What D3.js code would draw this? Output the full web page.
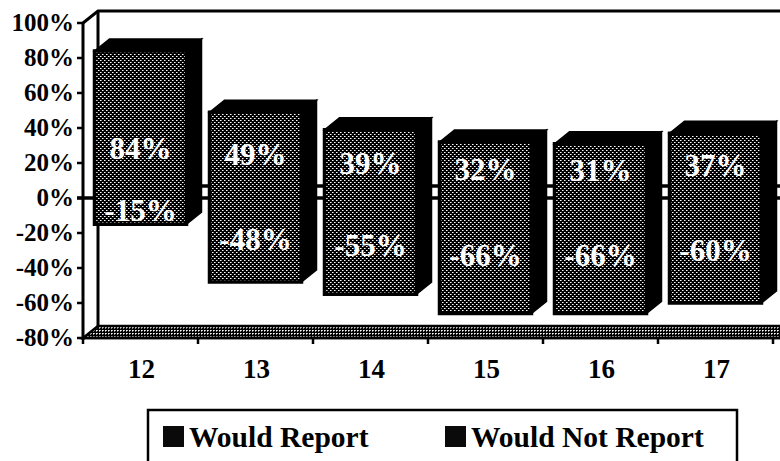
<!DOCTYPE html>
<html>
<head>
<meta charset="utf-8">
<script src="https://cdn.jsdelivr.net/npm/d3@7"></script>
<style>
  html, body { margin: 0; padding: 0; background: #fff; }
  svg { display: block; }
</style>
</head>
<body>
<svg id="chart" width="780" height="461"></svg>
<script>
// ---- data ----
const categories = ["12", "13", "14", "15", "16", "17"];
const wouldReport = [0.84, 0.49, 0.39, 0.32, 0.31, 0.37];
const wouldNotReport = [-0.15, -0.48, -0.55, -0.66, -0.66, -0.60];
const yTicks = [-0.8, -0.6, -0.4, -0.2, 0, 0.2, 0.4, 0.6, 0.8, 1.0];
const seriesNames = ["Would Report", "Would Not Report"];

// ---- layout ----
const W = 780, H = 461;
const FONT = "'Liberation Serif', 'Times New Roman', 'DejaVu Serif', serif";
const svg = d3.select("#chart");
const pct = v => Math.round(v * 100) + "%";

const x = d3.scaleBand().domain(categories).range([83, 773]);
const y = d3.scaleLinear().domain([-0.8, 1.0]).range([338, 23]);
const dx = 15, dy = 12;
const barW = x.bandwidth() * 0.8;

// pattern
const defs = svg.append("defs");
const pat = defs.append("pattern").attr("id", "dots")
  .attr("width", 4).attr("height", 4).attr("patternUnits", "userSpaceOnUse");
pat.append("rect").attr("width", 4).attr("height", 4).attr("fill", "#000");
[[0,0,"#fff"],[2,2,"#fff"],[1,0,"#8a8a8a"],[3,2,"#8a8a8a"]].forEach(([px,py,c]) =>
  pat.append("rect").attr("x", px).attr("y", py).attr("width", 1).attr("height", 1).attr("fill", c));

const pat2 = defs.append("pattern").attr("id", "dots2")
  .attr("width", 3).attr("height", 3).attr("patternUnits", "userSpaceOnUse");
pat2.append("rect").attr("width", 3).attr("height", 3).attr("fill", "#000");
[[0,0,"#fff"],[1,0,"#bbb"],[0,1,"#888"]].forEach(([px,py,c]) =>
  pat2.append("rect").attr("x", px).attr("y", py).attr("width", 1).attr("height", 1).attr("fill", c));

const x0 = x.range()[0], x1 = W + 5;
const yMin = y(-0.8), yMax = y(1.0), y0 = y(0);

// back wall
const g = svg.append("g");
g.append("path")
  .attr("d", `M${x0},${yMax} L${x0 + dx},${yMax - dy} L${x1},${yMax - dy}`)
  .attr("fill", "none").attr("stroke", "#000").attr("stroke-width", 3);
g.append("line").attr("x1", x0 + dx).attr("x2", x0 + dx)
  .attr("y1", yMax - dy).attr("y2", yMin - dy)
  .attr("stroke", "#000").attr("stroke-width", 3);

// floor slab
g.append("path")
  .attr("d", `M${x0},${yMin} L${x0 + dx},${yMin - dy} L${x1},${yMin - dy} L${x1},${yMin} Z`)
  .attr("fill", "url(#dots2)").attr("stroke", "#000").attr("stroke-width", 2.5);

// zero plane lines
g.append("line").attr("x1", x0 + dx).attr("x2", x1).attr("y1", y0 - dy).attr("y2", y0 - dy)
  .attr("stroke", "#000").attr("stroke-width", 3.5);
g.append("line").attr("x1", x0 - 6).attr("x2", x1).attr("y1", y0).attr("y2", y0)
  .attr("stroke", "#000").attr("stroke-width", 3.5);

// y axis
g.append("line").attr("x1", x0).attr("x2", x0).attr("y1", yMax).attr("y2", yMin + 2)
  .attr("stroke", "#000").attr("stroke-width", 3);
const yAxis = g.append("g");
yTicks.forEach(t => {
  yAxis.append("line").attr("x1", x0 - 6).attr("x2", x0).attr("y1", y(t)).attr("y2", y(t))
    .attr("stroke", "#000").attr("stroke-width", 2.5);
  yAxis.append("text").attr("x", x0 - 9).attr("y", y(t) + 8)
    .attr("text-anchor", "end").attr("font-family", FONT).attr("font-weight", "bold")
    .attr("font-size", 25).attr("fill", "#000")
    .text(pct(t));
});

// x axis ticks and labels
g.append("line").attr("x1", x0).attr("x2", x1).attr("y1", yMin).attr("y2", yMin)
  .attr("stroke", "#000").attr("stroke-width", 2.5);
const edges = categories.map(c => x(c)).concat([x(categories[categories.length - 1]) + x.bandwidth()]);
edges.forEach(e => {
  g.append("line").attr("x1", e).attr("x2", e).attr("y1", yMin).attr("y2", yMin + 6)
    .attr("stroke", "#000").attr("stroke-width", 2.5);
});
categories.forEach(c => {
  g.append("text").attr("x", x(c) + x.bandwidth() / 2 + 1).attr("y", 378)
    .attr("text-anchor", "middle").attr("font-family", FONT).attr("font-weight", "bold")
    .attr("font-size", 27).attr("fill", "#000").text(c);
});

// bars
const series = [wouldReport, wouldNotReport];
const bars = svg.append("g");
categories.forEach((c, i) => {
  const bx0 = x(c) + (x.bandwidth() - barW) / 2;
  const bx1 = bx0 + barW;
  const top = y(wouldReport[i]);
  const bot = y(wouldNotReport[i]);
  bars.append("path")
    .attr("d", `M${bx1},${top} L${bx1 + dx},${top - dy} L${bx1 + dx},${bot - dy} L${bx1},${bot} Z`)
    .attr("fill", "#000").attr("stroke", "#000").attr("stroke-width", 1.5);
  bars.append("path")
    .attr("d", `M${bx0},${top} L${bx0 + dx},${top - dy} L${bx1 + dx},${top - dy} L${bx1},${top} Z`)
    .attr("fill", "#000").attr("stroke", "#000").attr("stroke-width", 1.5);
  series.forEach(s => {
    const v = s[i];
    const ya = y(Math.max(0, v)), yb = y(Math.min(0, v));
    bars.append("rect").attr("x", bx0).attr("y", ya).attr("width", barW).attr("height", yb - ya)
      .attr("fill", "url(#dots)");
    const yEdge = y(v);
    bars.append("path")
      .attr("d", `M${bx0},${y0} L${bx0},${yEdge} L${bx1},${yEdge} L${bx1},${y0}`)
      .attr("fill", "none").attr("stroke", "#000").attr("stroke-width", 3.5);
  });
  series.forEach(s => {
    const v = s[i];
    const mid = Math.max(-0.4, Math.min(0.28, v / 2));
    bars.append("text").attr("x", bx0 + barW / 2).attr("y", y(mid) + 10)
      .attr("text-anchor", "middle").attr("font-family", FONT).attr("font-weight", "bold")
      .attr("font-size", 31).attr("fill", "#fff")
      .text(pct(v));
  });
});

// legend
const lg = svg.append("g");
lg.append("rect").attr("x", 148).attr("y", 410).attr("width", 589).attr("height", 70)
  .attr("fill", "#fff").attr("stroke", "#000").attr("stroke-width", 2.5);
const legendX = [163, 445];
seriesNames.forEach((n, i) => {
  lg.append("rect").attr("x", legendX[i]).attr("y", 426).attr("width", 21).attr("height", 21)
    .attr("fill", "#0a0a0a");
  lg.append("text").attr("x", legendX[i] + 26).attr("y", 447)
    .attr("font-family", FONT).attr("font-weight", "bold")
    .attr("font-size", 29.5).attr("fill", "#000").text(n);
});
</script>
</body>
</html>
